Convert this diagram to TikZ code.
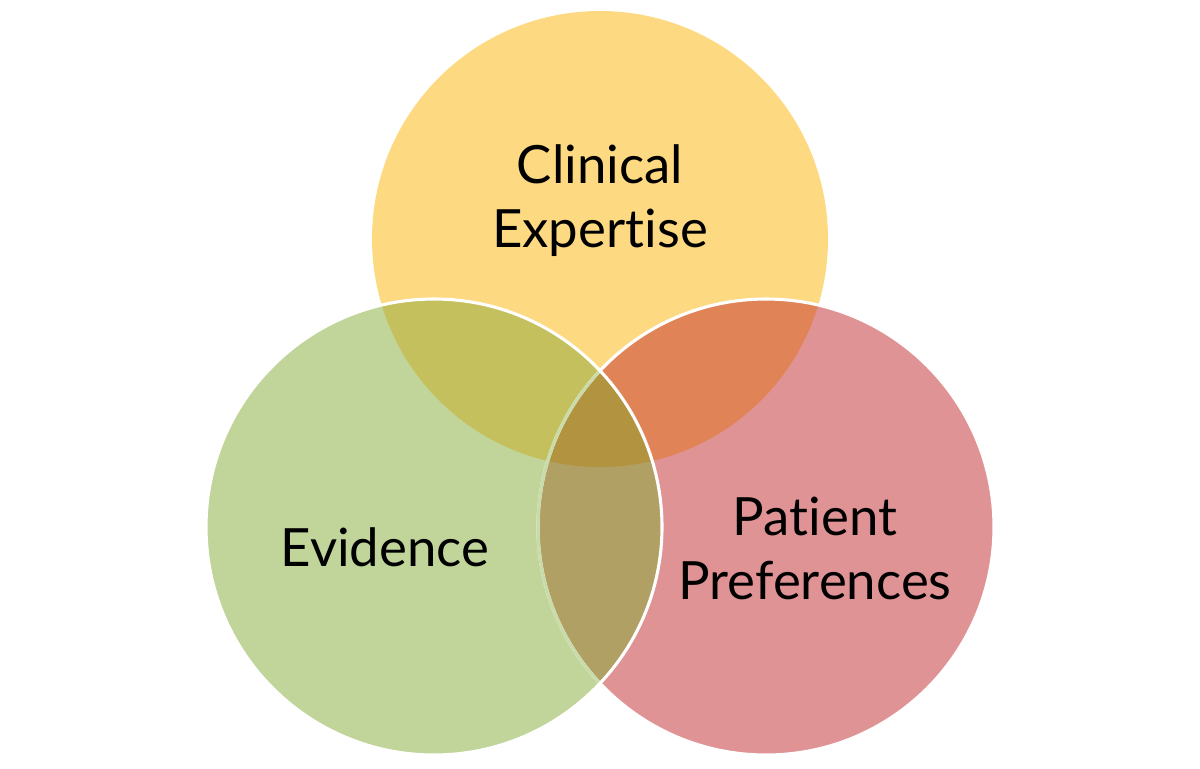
\documentclass[tikz,border=0pt]{standalone}
\usepackage{fontspec}
\setmainfont{Lato}[Ligatures={NoCommon}]
\definecolor{cyellow}{RGB}{253,217,130}
\definecolor{cgreen}{RGB}{193,213,155}
\definecolor{cpink}{RGB}{224,147,148}
\definecolor{cyellowgreen}{RGB}{196,192,93}
\definecolor{cyellowpink}{RGB}{224,132,88}
\definecolor{cgreenpink}{RGB}{177,160,100}
\definecolor{call}{RGB}{178,147,64}
\begin{document}
\begin{tikzpicture}[x=0.025cm, y=-0.025cm,
		venntext/.style={align=center, text=black, font=\fontsize{37.5}{45.5}\selectfont},
		rim/.style={line width=2.2pt}]
		\useasboundingbox (0,0) rectangle (1200,768);

		\coordinate (Y) at (600,239);
		\coordinate (G) at (434,527);
		\coordinate (P) at (766,527);
		\def\rad{228}

		% the three circles
		\fill[cyellow] (Y) circle (\rad);
		\fill[cpink] (P) circle (\rad);
		\fill[cgreen] (G) circle (\rad);

		% overlaps
		\begin{scope}
			\clip (Y) circle (\rad);
			\fill[cyellowgreen] (G) circle (\rad);
			\fill[cyellowpink] (P) circle (\rad);
		\end{scope}
		\begin{scope}
			\clip (G) circle (\rad);
			\fill[cgreenpink] (P) circle (\rad);
			\clip (P) circle (\rad);
			\fill[call] (Y) circle (\rad);
		\end{scope}

		% white rims
		\draw[rim, white] (P) circle (\rad);
		\begin{scope}
			\clip (G) circle (\rad);
			\draw[rim, cgreen!85!white] (P) circle (\rad);
		\end{scope}
		\draw[rim, white] (G) circle (\rad);

		\node[venntext] (clinical) at (600,201) {Clinical\\Expertise};
		\node[venntext] (evidence) at (385,547) {Evidence};
		\node[venntext] (patient) at (815,548) {Patient\\Preferences};
	\end{tikzpicture}
\end{document}
